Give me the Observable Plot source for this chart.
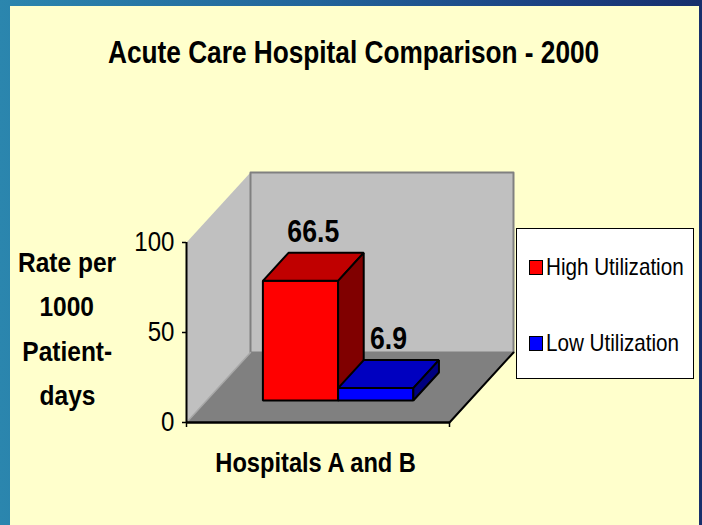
<!DOCTYPE html>
<html><head><meta charset="utf-8">
<script src="https://cdn.jsdelivr.net/npm/d3@7"></script>
<script src="https://cdn.jsdelivr.net/npm/@observablehq/plot@0.6"></script>
<style>
html,body{margin:0;padding:0;}
body{width:702px;height:525px;overflow:hidden;position:relative;}
#bg{position:absolute;left:0;top:0;width:702px;height:525px;background:linear-gradient(to right,#2b86ae 0%,#22649a 45%,#1b3f80 80%,#172f6c 100%);}
#panel{position:absolute;left:10px;top:6px;width:689px;height:519px;background:#ffffcc;}
#chart{position:absolute;left:0;top:0;}
.t{position:absolute;font-family:"Liberation Sans",Arial,sans-serif;color:#000;white-space:nowrap;line-height:1;}
#legend{position:absolute;left:516px;top:228px;width:176px;height:149px;background:#fff;border:1.5px solid #000;}
.sw{position:absolute;width:12px;height:13px;border:1px solid #000;}
</style></head>
<body>
<div id="bg"></div>
<div id="panel"></div>
<div id="chart"></div>
<script>
// ---- data ----
const title = "Acute Care Hospital Comparison - 2000";
const category = "Hospitals A and B";
const yLabelLines = ["Rate per", "1000", "Patient-", "days"];
const series = ["High Utilization", "Low Utilization"];
const values = [66.5, 6.9];
const valueLabels = ["66.5", "6.9"];
const yTicks = [0, 50, 100];
const frontColors = ["#ff0000", "#0000ff"];
const topColors = ["#c00000", "#0000c0"];
const sideColors = ["#800000", "#000080"];

const FONT = "'Liberation Sans', Arial, sans-serif";
const SX = 0.86; // condensed look of the original typeface

// ---- 3D layout (category axis u in [0,1], depth w in [0,1], value v) ----
const DX = 64 / 263;      // depth shift along x (x units)
const DY = 70 / 1.8;      // depth shift along y (value units)
const W0 = 22 / 70, W1 = 50 / 70; // bar depth range
const barW = 0.286, groupCenter = 0.5;
const P = (u, w, v) => ({x: u + w * DX, y: v + w * DY});
const poly = pts => pts.map(([u, w, v]) => P(u, w, v));
const yMax = yTicks[yTicks.length - 1];

const marks = [];
// walls & floor
marks.push(Plot.line(poly([[0,0,0],[0,1,0],[0,1,yMax],[0,0,yMax]]), {x:"x", y:"y", curve:"linear-closed", fill:"#c0c0c0", stroke:"none"}));
marks.push(Plot.line(poly([[0,0,0],[1,0,0],[1,1,0],[0,1,0]]), {x:"x", y:"y", curve:"linear-closed", fill:"#808080", stroke:"none"}));
marks.push(Plot.line(poly([[0,1,0],[1,1,0],[1,1,yMax],[0,1,yMax]]), {x:"x", y:"y", curve:"linear-closed", fill:"#c0c0c0", stroke:"#808080", strokeWidth:2}));
marks.push(Plot.line(poly([[0,0,0],[0,1,0]]), {x:"x", y:"y", stroke:"#a8a8a8", strokeWidth:1.5}));
marks.push(Plot.line(poly([[1,0,0],[1,1,0]]), {x:"x", y:"y", stroke:"#000", strokeWidth:2}));

// bars
values.forEach((v, i) => {
  const u0 = groupCenter - barW + i * barW, u1 = u0 + barW;
  const common = {x:"x", y:"y", curve:"linear-closed", stroke:"#000", strokeWidth:2, strokeLinejoin:"miter"};
  marks.push(Plot.line(poly([[u0,W0,0],[u1,W0,0],[u1,W0,v],[u0,W0,v]]), {...common, fill: frontColors[i]}));
  marks.push(Plot.line(poly([[u0,W0,v],[u1,W0,v],[u1,W1,v],[u0,W1,v]]), {...common, fill: topColors[i]}));
  marks.push(Plot.line(poly([[u1,W0,0],[u1,W1,0],[u1,W1,v],[u1,W0,v]]), {...common, fill: sideColors[i]}));
});

// value labels
const labelData = values.map((v, i) => {
  const uc = groupCenter - barW + (i + 0.5) * barW;
  return {...P(uc, (W0 + W1) / 2, v), label: valueLabels[i]};
});
marks.push(Plot.text(labelData, {x:"x", y:"y", text:"label", lineAnchor:"bottom", dy:-25, fontSize:31, fontWeight:"bold", fill:"#000", fontFamily: FONT}));

// axes
marks.push(Plot.ruleX([0], {y1:0, y2:yMax, stroke:"#000", strokeWidth:2}));
marks.push(Plot.ruleY([0], {x1:0, x2:1, stroke:"#000", strokeWidth:2.5}));
marks.push(Plot.axisY(yTicks, {tickSize:4, tickPadding:8, fontSize:28, tickFormat:d=>String(d), stroke:"#000", strokeWidth:1.5, fill:"#000", label:null, fontFamily: FONT}));
marks.push(Plot.axisX([0, 1], {tickSize:5, tickFormat:()=>"", stroke:"#000", strokeWidth:1.5, label:null}));

const chart = Plot.plot({
  width: 702, height: 525,
  marginLeft: 186, marginRight: 189, marginTop: 172, marginBottom: 103,
  x: {domain: [0, 1 + DX]},
  y: {domain: [0, yMax + DY]},
  style: {background: "transparent", fontFamily: FONT, color:"#000", overflow:"visible"},
  marks
});
// condense svg texts horizontally around their anchor points
chart.querySelectorAll("text").forEach(t => {
  if (!t.textContent) return;
  const tr = t.getAttribute("transform") || "";
  t.setAttribute("transform", `${tr} scale(${SX},1)`);
  const xa = t.getAttribute("x");
  if (xa != null && /^-?[\d.]+$/.test(xa.trim())) t.setAttribute("x", +xa / SX);
});
document.getElementById("chart").appendChild(chart);

// ---- html text ----
function addText(txt, size, weight, baseline, opts) {
  const d = document.createElement("div");
  d.className = "t";
  d.textContent = txt;
  d.style.fontSize = size + "px";
  d.style.fontWeight = weight;
  d.style.top = (baseline - 0.8465 * size) + "px";
  document.body.appendChild(d);
  const w = d.getBoundingClientRect().width;
  if (opts.center != null) {
    d.style.left = (opts.center - w / 2) + "px";
    d.style.transformOrigin = "50% 50%";
  } else {
    d.style.left = opts.left + "px";
    d.style.transformOrigin = "0 50%";
  }
  d.style.transform = `scaleX(${SX})`;
  return d;
}
addText(title, 30.5, "bold", 62.5, {center: 354});
addText(category, 27.5, "bold", 472, {center: 316});
yLabelLines.forEach((l, i) => addText(l, 28.5, "bold", 272 + i * 44.4, {center: 67}));

const lg = document.createElement("div");
lg.id = "legend";
document.body.appendChild(lg);
series.forEach((s, i) => {
  const sw = document.createElement("div");
  sw.className = "sw";
  sw.style.background = frontColors[i];
  sw.style.left = (528 - 516) + "px";
  sw.style.top = (259 - 228 + i * 76) + "px";
  lg.appendChild(sw);
});
series.forEach((s, i) => addText(s, 24, "normal", 275 + i * 76, {left: 546}));
</script>
</body></html>
